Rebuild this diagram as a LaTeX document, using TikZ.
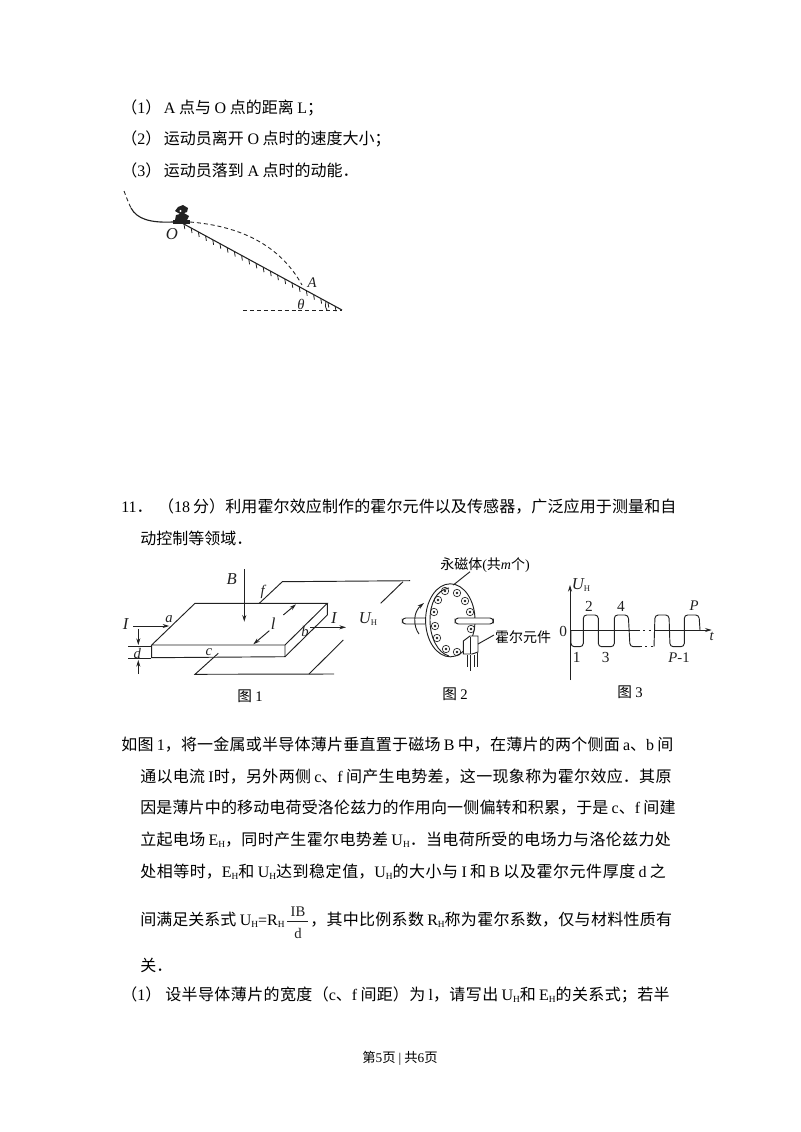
\documentclass[tikz,border=0pt]{standalone}
\usepackage{fontspec}
\setmainfont{Noto Sans CJK SC}
\newfontfamily\latf{Liberation Serif}
\usetikzlibrary{arrows.meta}
\XeTeXlinebreaklocale "zh"
\XeTeXlinebreakskip=0pt plus 1pt minus 0.5pt
\newcommand\la[1]{{\latf #1}}
\newcommand\hs{\hspace{2pt}}
\newcommand\sbH{\raisebox{-1.5pt}{\latf\fontsize{7}{7}\selectfont H}}
\newcommand\UH{\la{U}\sbH}
\newcommand\EH{\la{E}\sbH}
\newcommand\RH{\la{R}\sbH}
\newcommand\jl[1]{\parfillskip=0pt\relax\tolerance=9999\hbadness=10000\hfuzz=20pt\spaceskip=2.4pt plus 0.2pt minus 0.2pt\relax #1\par}
\definecolor{ink}{gray}{0.13}
\tikzset{
  txt/.style={anchor=west,inner sep=0pt,font=\fontsize{12}{14}\selectfont,text=black},
  pagefoot/.style={anchor=center,inner sep=0pt,font=\fontsize{10}{12}\selectfont,text=black},
  lab/.style={anchor=center,inner sep=0pt,font=\latf\itshape\fontsize{11}{12}\selectfont,text=ink},
  labb/.style={anchor=center,inner sep=0pt,font=\latf\itshape\fontsize{12.5}{13}\selectfont,text=ink},
  num/.style={anchor=center,inner sep=0pt,font=\latf\fontsize{11.5}{12}\selectfont,text=ink},
  figcap/.style={anchor=center,inner sep=0pt,font=\fontsize{11}{12}\selectfont,text=black},
  wire/.style={draw=ink,line width=0.7pt},
  dwire/.style={draw=ink,line width=0.65pt,dash pattern=on 3pt off 2.2pt},
  arr/.style={wire,-{Stealth[length=5pt,width=3pt]}},
  magnet/.style={draw=ink,line width=0.5pt,circle,minimum size=5.6pt,inner sep=0pt,path picture={\fill[ink] (path picture bounding box.center) circle (1pt);}}
}
\begin{document}
\begin{tikzpicture}[x=0.75pt,y=-0.75pt]
\useasboundingbox (0,0) rectangle (800,1132);
\fill[white] (0,0) rectangle (800,1132);

% question text, top
\node[txt] (q1) at (121,108.3) {（\la{1}）\hs\la{A} 点与 \la{O} 点的距离 \la{L}；};
\node[txt] (q2) at (121,138.8) {（\la{2}）\hs 运动员离开 \la{O} 点时的速度大小；};
\node[txt] (q3) at (121,170) {（\la{3}）\hs 运动员落到 \la{A} 点时的动能．};

% ski slope figure
\draw[dwire] (124,191) .. controls (126,196) and (128,202) .. (131,208);
\draw[wire,line width=0.85pt] (131,208) .. controls (137,219) and (150,223) .. (173,222);
\fill[ink] (173,219.5) rectangle (190,223.5);
\fill[ink] (175,220) -- (176,215) -- (180,214) -- (175,211) -- (178,207) -- (183,205) -- (188,208) -- (187,212) -- (184,213) -- (189,216) -- (187,220) -- cycle;
\fill[white] (180.5,211) circle (1.1);
\draw[wire,line width=0.8pt] (182,223) -- (342,310);
\foreach \t in {0,1,...,21}{
  \pgfmathsetmacro\xa{184+\t*7.2}
  \pgfmathsetmacro\ya{224.1+\t*3.92}
  \draw[ink,line width=0.6pt] (\xa,\ya) -- ++(0.8,5);
}
\draw[dwire] (190,222) .. controls (240,226) and (280,245) .. (302,285);
\draw[dwire] (243,310) -- (342,310);
\draw[wire,line width=0.6pt] (326,301.5) .. controls (325,304) and (325,307) .. (327,310);
\node[labb] (lO) at (172,234) {O};
\node[lab] (lA) at (312,283) {A};
\node[lab] (lth) at (301,304) {θ};

% problem 11
\node[txt,text width=418.5pt] (p1) at (121,506.7) {\jl{\la{11}．\hspace{4pt}（\la{18} 分）利用霍尔效应制作的霍尔元件以及传感器，广泛应用于测量和自}};
\node[txt] (p2) at (140,538) {动控制等领域．};

% figure 1
\draw[wire] (151.7,645) -- (195,603.3) -- (327.3,603.3) -- (285,645) -- cycle;
\draw[wire] (151.7,645) -- (151.7,657.7) -- (285,656.7) -- (285,645);
\draw[wire] (285,656.7) -- (327.3,615) -- (327.3,603.3);
\draw[arr] (244.3,569.3) -- (244.3,621.7);
\node[labb] (lB) at (231.7,579.3) {B};
\draw[wire] (259.3,603.3) -- (282.3,581.7) -- (410,580.7);
\draw[wire] (403,581.7) -- (380.7,603.3);
\node[lab] (lf) at (262.7,591.7) {f};
\draw[wire] (218.3,653.3) -- (195,674.3) -- (334,674);
\draw[wire] (343.3,640) -- (309,674);
\node[lab] (lc) at (209,651.7) {c};
\draw[arr] (269.3,630.7) -- (253.3,644.3);
\draw[arr] (283.3,615) -- (296,604.3);
\node[labb] (ll) at (273.3,623.3) {l};
\draw[arr] (133.3,626) -- (169.3,626);
\node[labb] (lI1) at (125.7,624) {I};
\node[lab] (la) at (169,619.3) {a};
\draw[arr] (310,627.3) -- (346,627.3);
\node[labb] (lI2) at (334,618.3) {I};
\node[lab] (lb) at (305,631) {b};
\node[labb] (lU) at (368,619.3) {U\raisebox{-1.5pt}{\upshape\fontsize{6.5}{6}\selectfont H}};
\draw[wire] (128.3,646) -- (150.7,646);
\draw[wire] (128.3,658.3) -- (150.7,658.3);
\draw[arr] (138.3,629.3) -- (138.3,645);
\draw[arr] (138.3,674) -- (138.3,660);
\node[lab] (ld) at (137.3,653) {d};
\node[figcap] (c1) at (250,696) {图 \la{1}};

% figure 2
\draw[wire] (450.3,620.3) ellipse (24.7 and 36.5);
\draw[wire] (449,588) .. controls (436,590) and (430,604) .. (430,620) .. controls (430,638) and (438,653) .. (449,656);
\foreach \mx/\my [count=\i] in {445/591,457/593,465/601,470/612,471/629,457/652,446/649,437/638,435/626,434/612,438/600}{
  \node[magnet] (m\i) at (\mx,\my) {};
}
\draw[wire,fill=white,rounded corners=2.5pt] (455,618) rectangle (493.3,624);
\draw[wire,rounded corners=2.5pt] (425.7,618) -- (402.3,618) -- (402.3,624) -- (425.7,624);
\draw[arr] (419,634) .. controls (413,626) and (413,612) .. (424,603);
\draw[wire] (453.3,585) -- (470,571.7);
\node[figcap,font=\fontsize{10.5}{12}\selectfont] (c2a) at (485,565.5) {永磁体\la{(}共\la{\itshape m}个\la{)}};
\draw[wire,fill=white] (463.3,641) -- (470,636) -- (478,636) -- (478,652) -- (472,654) -- (463.3,654) -- cycle;
\draw[wire] (470,637) -- (470,654);
\draw[wire] (467,655) -- (467,667);
\draw[wire] (470,655) -- (470,671);
\draw[wire] (477.7,653) -- (477.7,667);
\draw[wire] (474,655) -- (474,667);
\draw[wire] (478,644) -- (494,635);
\node[figcap,font=\fontsize{10.5}{12}\selectfont] (c2b) at (523,636.7) {霍尔元件};
\node[figcap] (c2) at (455,694.3) {图 \la{2}};

% figure 3
\draw[arr] (570,680) -- (570,585);
\node[labb] (lU3) at (581,585) {U\raisebox{-1.5pt}{\upshape\fontsize{6.5}{6}\selectfont H}};
\draw[wire] (570,630) -- (638,630);
\draw[dwire,dash pattern=on 1.5pt off 2.5pt] (638,630) -- (654,630);
\draw[arr] (654,630) -- (711.7,630);
\draw[wire,rounded corners=2.5pt] (571,630) -- (571,646.7) -- (583.3,646.7) -- (583.3,615) -- (598.3,615) -- (598.3,646.7) -- (614.3,646.7) -- (614.3,615) -- (628.3,615) -- (630,646.7) -- (640,646.7);
\draw[dwire,dash pattern=on 1.5pt off 2.5pt] (640,646.7) -- (654,646.7);
\draw[wire,rounded corners=2.5pt] (654,646.7) -- (655,615) -- (669,615) -- (670,646.7) -- (684.3,646.7) -- (684.3,615) -- (699,615) -- (700,630);
\node[num] (l0) at (563.3,631.7) {0};
\node[lab] (lt) at (711.7,636.7) {t};
\node[num] (w2) at (589,606.7) {2};
\node[num] (w4) at (621,606.7) {4};
\node[lab] (wP) at (694,605.7) {P};
\node[num] (w1) at (576.7,657.3) {1};
\node[num] (w3) at (605.7,657.3) {3};
\node[lab] (wP1) at (679,657.3) {P{\upshape -}{\upshape 1}};
\node[figcap] (c3) at (630,692.3) {图 \la{3}};

% body text
\node[txt,text width=418.5pt] (b1) at (121,745) {\jl{如图 \la{1}，将一金属或半导体薄片垂直置于磁场 \la{B} 中，在薄片的两个侧面 \la{a}、\la{b} 间}};
\node[txt,text width=404.25pt] (b2) at (140,776.7) {\jl{通以电流 \la{I}时，另外两侧 \la{c}、\la{f} 间产生电势差，这一现象称为霍尔效应．其原}};
\node[txt,text width=404.25pt] (b3) at (140,808) {\jl{因是薄片中的移动电荷受洛伦兹力的作用向一侧偏转和积累，于是 \la{c}、\la{f} 间建}};
\node[txt,text width=404.25pt] (b4) at (140,840) {\jl{立起电场 \EH，同时产生霍尔电势差 \UH．当电荷所受的电场力与洛伦兹力处}};
\node[txt,text width=404.25pt] (b5) at (140,871.5) {\jl{处相等时，\EH 和 \UH 达到稳定值，\UH 的大小与 \la{I} 和 \la{B} 以及霍尔元件厚度 \la{d} 之}};
\node[txt] (b6a) at (140,919.5) {间满足关系式 \la{U}\sbH\la{=R}\sbH};
\node[num,font=\latf\fontsize{11}{12}\selectfont] (fn) at (298,912) {IB};
\draw[wire,line width=0.5pt] (287,921.5) -- (308,921.5);
\node[num,font=\latf\fontsize{11}{12}\selectfont] (fd) at (298,933) {d};
\node[txt,text width=276.75pt] (b6b) at (310,919.5) {\jl{，其中比例系数 \RH 称为霍尔系数，仅与材料性质有}};
\node[txt] (b7) at (140,965) {关．};
\node[txt,text width=418.5pt] (b8) at (121,995) {\jl{（\la{1}）\hspace{3pt}设半导体薄片的宽度（\la{c}、\la{f} 间距）为 \la{l}，请写出 \UH 和 \EH 的关系式；若半}};
\node[pagefoot] (foot) at (400,1058) {第\la{5}页 \la{|} 共\la{6}页};
\end{tikzpicture}
\end{document}
